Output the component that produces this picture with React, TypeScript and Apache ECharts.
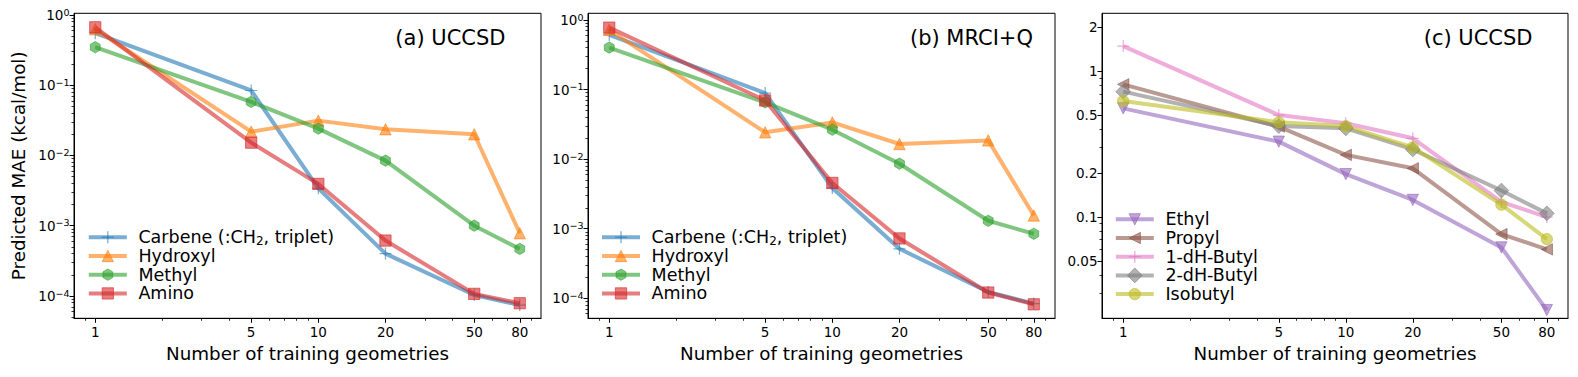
import React, { useEffect, useRef } from 'react';
import * as echarts from 'echarts';

// ---------------- data ----------------
const X_VALUES = [1, 5, 10, 20, 50, 80];
const X_TICK_LABELS = ['1', '5', '10', '20', '50', '80'];
const X_MINOR_TICKS = [0.9, 2, 3, 4, 6, 7, 8, 9, 30, 40, 60, 70, 90];
const X_LIMITS = [0.803, 99.6];

// panel (a) UCCSD
const carbeneA = [0.55, 0.084, 0.0034, 0.0004, 0.000103, 0.000074];
const hydroxylA = [0.625, 0.0218, 0.0313, 0.0236, 0.02, 0.00078];
const methylA = [0.347, 0.0578, 0.0241, 0.00844, 0.001, 0.000467];
const aminoA = [0.667, 0.0152, 0.00393, 0.000614, 0.000107, 0.0000787];

// panel (b) MRCI+Q
const carbeneB = [0.61, 0.089, 0.00386, 0.000515, 0.000123, 0.0000839];
const hydroxylB = [0.72, 0.0243, 0.0337, 0.0165, 0.0186, 0.00155];
const methylB = [0.401, 0.0653, 0.0265, 0.0086, 0.0013, 0.000846];
const aminoB = [0.776, 0.0697, 0.00455, 0.000725, 0.000121, 0.000082];

// panel (c) UCCSD
const ethylC = [0.557, 0.329, 0.197, 0.131, 0.0619, 0.023];
const propylC = [0.814, 0.417, 0.267, 0.216, 0.0764, 0.06];
const butyl1C = [1.49, 0.501, 0.44, 0.347, 0.127, 0.1];
const butyl2C = [0.725, 0.421, 0.406, 0.291, 0.152, 0.106];
const isobutylC = [0.626, 0.447, 0.421, 0.301, 0.1216, 0.0706];

const Y_TICKS_AB = [1e-4, 1e-3, 1e-2, 1e-1, 1];
const Y_TICK_EXPONENTS_AB = ['−4', '−3', '−2', '−1', '0'];
const Y_LIMITS_A = [4.8e-5, 1.055];
const Y_LIMITS_B = [5.16e-5, 1.247];
const Y_TICKS_C = [0.05, 0.1, 0.2, 0.5, 1, 2];
const Y_TICK_LABELS_C = ['0.05', '0.1', '0.2', '0.5', '1', '2'];
const Y_LIMITS_C = [0.0202, 2.5];

const PANEL_TITLES = ['(a) UCCSD', '(b) MRCI+Q', '(c) UCCSD'];
const NAMES_AB = ['Carbene (:CH2, triplet)', 'Hydroxyl', 'Methyl', 'Amino'];
const NAMES_C = ['Ethyl', 'Propyl', '1-dH-Butyl', '2-dH-Butyl', 'Isobutyl'];
const X_NAME = 'Number of training geometries';
const Y_NAME = 'Predicted MAE (kcal/mol)';

// ---------------- style ----------------
const C = {
  blue: 'rgba(31,119,180,0.6)',
  orange: 'rgba(255,127,14,0.6)',
  green: 'rgba(44,160,44,0.6)',
  red: 'rgba(214,39,40,0.6)',
  purple: 'rgba(148,103,189,0.6)',
  brown: 'rgba(140,86,75,0.6)',
  pink: 'rgba(227,119,194,0.6)',
  gray: 'rgba(127,127,127,0.6)',
  olive: 'rgba(188,189,34,0.6)',
};
const SYM: Record<string, string> = {
  plus: 'path://M9,0H11V9H20V11H11V20H9V11H0V9H9Z',
  tri: 'triangle',
  hex: 'path://M50,0L93.3,25L93.3,75L50,100L6.7,75L6.7,25Z',
  square: 'rect',
  triDown: 'path://M0,0L20,0L10,20Z',
  triLeft: 'path://M20,0L20,20L0,10Z',
  diamond: 'diamond',
  circle: 'circle',
};
const STYLE_AB = [
  { color: C.blue, symbol: 'plus', size: 12 },
  { color: C.orange, symbol: 'tri', size: 11.3 },
  { color: C.green, symbol: 'hex', size: 11.3 },
  { color: C.red, symbol: 'square', size: 11.3 },
];
const STYLE_C = [
  { color: C.purple, symbol: 'triDown', size: 11.3 },
  { color: C.brown, symbol: 'triLeft', size: 11.3 },
  { color: C.pink, symbol: 'plus', size: 12 },
  { color: C.gray, symbol: 'diamond', size: 14.8 },
  { color: C.olive, symbol: 'circle', size: 11.3 },
];
const FONT = 'DejaVu Sans';
const GRIDS = [
  { left: 74, top: 13.3, width: 467, height: 305 },
  { left: 588, top: 13.3, width: 467, height: 305 },
  { left: 1102, top: 13.3, width: 466, height: 305 },
];
const LEGEND_POS = [
  { x: 88.8, y: 237.3 },
  { x: 602, y: 237.3 },
  { x: 1115.8, y: 219.3 },
];
const LEGEND_ROW = 18.7;
const LEGEND_LINE = 38;
const LEGEND_TEXT_GAP = 11.6;

const lg = Math.log10;
const pairs = (ys: number[]) => X_VALUES.map((x, i) => [lg(x), lg(ys[i])]);

function minorLogTicks(lo: number, hi: number, skip: number[] = []) {
  const out: number[] = [];
  for (let k = Math.floor(lo) - 1; k <= Math.ceil(hi); k++) {
    for (let m = 2; m <= 9; m++) {
      const v = lg(m) + k;
      if (v > lo && v < hi && !skip.some((s) => Math.abs(lg(s) - v) < 1e-6)) out.push(v);
    }
  }
  return out;
}

function nearestIndex(arr: number[], v: number) {
  let best = 0;
  for (let i = 1; i < arr.length; i++) if (Math.abs(arr[i] - v) < Math.abs(arr[best] - v)) best = i;
  return best;
}

function markerGraphic(symbol: string, cx: number, cy: number, s: number, color: string): any[] {
  const h = s / 2;
  const filled = { fill: color, stroke: color, lineWidth: 1 };
  switch (symbol) {
    case 'plus':
      return [
        { type: 'line', silent: true, shape: { x1: cx - h, y1: cy, x2: cx + h, y2: cy }, style: { stroke: color, lineWidth: 1.3 } },
        { type: 'line', silent: true, shape: { x1: cx, y1: cy - h, x2: cx, y2: cy + h }, style: { stroke: color, lineWidth: 1.3 } },
      ];
    case 'tri':
      return [{ type: 'polygon', silent: true, shape: { points: [[cx, cy - h], [cx + h, cy + h], [cx - h, cy + h]] }, style: filled }];
    case 'triDown':
      return [{ type: 'polygon', silent: true, shape: { points: [[cx - h, cy - h], [cx + h, cy - h], [cx, cy + h]] }, style: filled }];
    case 'triLeft':
      return [{ type: 'polygon', silent: true, shape: { points: [[cx + h, cy - h], [cx + h, cy + h], [cx - h, cy]] }, style: filled }];
    case 'hex': {
      const w = 0.866 * h;
      return [{ type: 'polygon', silent: true, shape: { points: [[cx, cy - h], [cx + w, cy - h / 2], [cx + w, cy + h / 2], [cx, cy + h], [cx - w, cy + h / 2], [cx - w, cy - h / 2]] }, style: filled }];
    }
    case 'square':
      return [{ type: 'rect', silent: true, shape: { x: cx - h, y: cy - h, width: s, height: s }, style: filled }];
    case 'diamond':
      return [{ type: 'polygon', silent: true, shape: { points: [[cx, cy - h], [cx + h, cy], [cx, cy + h], [cx - h, cy]] }, style: filled }];
    default:
      return [{ type: 'circle', silent: true, shape: { cx, cy, r: h }, style: filled }];
  }
}

function legendGraphics(x0: number, y0: number, names: string[], styles: any[]) {
  const els: any[] = [];
  names.forEach((name, i) => {
    const y = y0 + i * LEGEND_ROW;
    const st = styles[i];
    els.push({ type: 'line', silent: true, shape: { x1: x0, y1: y, x2: x0 + LEGEND_LINE, y2: y }, style: { stroke: st.color, lineWidth: 4 } });
    els.push(...markerGraphic(st.symbol, x0 + LEGEND_LINE / 2, y, st.size, st.color));
    const isCarbene = name === NAMES_AB[0];
    els.push({
      type: 'text', silent: true, x: x0 + LEGEND_LINE + LEGEND_TEXT_GAP, y,
      style: {
        text: isCarbene ? '{t|Carbene (:CH}{sub|2}{t|, triplet)}' : name,
        fontSize: 17.5, fontFamily: FONT, fill: '#000', align: 'left', verticalAlign: 'middle',
        lineHeight: 18.7,
        rich: {
          t: { fontSize: 17.5, lineHeight: 18.7, fill: '#000', fontFamily: FONT },
          sub: { fontSize: 12, lineHeight: 8, verticalAlign: 'bottom', fill: '#000', fontFamily: FONT },
        },
      },
    });
  });
  return els;
}

function buildOption() {
  const xMajor = X_VALUES.map(lg);
  const xMinor = X_MINOR_TICKS.map(lg);
  const xMin = lg(X_LIMITS[0]);
  const xMax = lg(X_LIMITS[1]);

  const xAxes: any[] = [];
  const yAxes: any[] = [];
  const yLimits = [Y_LIMITS_A, Y_LIMITS_B, Y_LIMITS_C];

  for (let g = 0; g < 3; g++) {
    xAxes.push({
      type: 'value', gridIndex: g, position: 'bottom', min: xMin, max: xMax,
      axisLine: { show: true, onZero: false, lineStyle: { color: '#000', width: 1 } },
      axisTick: { show: true, length: 4.5, lineStyle: { color: '#000', width: 1 }, customValues: xMajor },
      axisLabel: {
        show: true, customValues: xMajor, margin: 7, color: '#000', fontSize: 13.5, fontFamily: FONT,
        formatter: (v: number) => X_TICK_LABELS[nearestIndex(xMajor, v)],
      },
      splitLine: { show: false },
      name: X_NAME, nameLocation: 'middle', nameGap: 24,
      nameTextStyle: { color: '#000', fontSize: 18.3, fontFamily: FONT },
    });
    xAxes.push({
      type: 'value', gridIndex: g, position: 'bottom', offset: 0, min: xMin, max: xMax,
      axisLine: { show: false, onZero: false },
      axisTick: { show: true, length: 2.5, lineStyle: { color: '#000', width: 0.8 }, customValues: xMinor },
      axisLabel: { show: false },
      splitLine: { show: false },
    });

    const lo = lg(yLimits[g][0]);
    const hi = lg(yLimits[g][1]);
    const isC = g === 2;
    const yMajor = (isC ? Y_TICKS_C : Y_TICKS_AB).map(lg);
    const yMinor = minorLogTicks(lo, hi, isC ? Y_TICKS_C : []);
    yAxes.push({
      type: 'value', gridIndex: g, position: 'left', min: lo, max: hi,
      axisLine: { show: true, onZero: false, lineStyle: { color: '#000', width: 1 } },
      axisTick: { show: true, length: 4.5, lineStyle: { color: '#000', width: 1 }, customValues: yMajor },
      axisLabel: {
        show: true, customValues: yMajor, margin: 4.5, color: '#000', fontSize: 13.5, fontFamily: FONT,
        lineHeight: 15.5,
        formatter: (v: number) => {
          const i = nearestIndex(yMajor, v);
          return isC ? Y_TICK_LABELS_C[i] : '10{sup|' + Y_TICK_EXPONENTS_AB[i] + '}';
        },
        rich: {
          sup: { fontSize: 9.5, lineHeight: 9.5, verticalAlign: 'top', color: '#000', fontFamily: FONT },
        },
      },
      splitLine: { show: false },
      ...(g === 0
        ? {
            name: Y_NAME, nameLocation: 'middle', nameGap: 47,
            nameTextStyle: { color: '#000', fontSize: 18.3, fontFamily: FONT },
          }
        : {}),
    });
    yAxes.push({
      type: 'value', gridIndex: g, position: 'left', offset: 0, min: lo, max: hi,
      axisLine: { show: false, onZero: false },
      axisTick: { show: true, length: 2.5, lineStyle: { color: '#000', width: 0.8 }, customValues: yMinor },
      axisLabel: { show: false },
      splitLine: { show: false },
    });
  }

  const mk = (name: string, ys: number[], st: any, g: number) => ({
    type: 'line', name, xAxisIndex: g * 2, yAxisIndex: g * 2, data: pairs(ys),
    symbol: SYM[st.symbol], symbolSize: st.size, symbolKeepAspect: true, showSymbol: true, showAllSymbol: true,
    lineStyle: { color: st.color, width: 4 },
    itemStyle: { color: st.color, borderColor: st.color, borderWidth: st.symbol === 'plus' ? 0 : 1 },
    emphasis: { disabled: true },
    clip: false,
  });

  const dataAB = [[carbeneA, hydroxylA, methylA, aminoA], [carbeneB, hydroxylB, methylB, aminoB]];
  const dataC = [ethylC, propylC, butyl1C, butyl2C, isobutylC];
  const series: any[] = [];
  dataAB.forEach((set, g) => set.forEach((ys, i) => series.push(mk(NAMES_AB[i], ys, STYLE_AB[i], g))));
  dataC.forEach((ys, i) => series.push(mk(NAMES_C[i], ys, STYLE_C[i], 2)));

  const titleStyle = { fontSize: 21, fontFamily: FONT, fill: '#000', align: 'right', verticalAlign: 'middle' };

  return {
    animation: false,
    backgroundColor: '#fff',
    textStyle: { fontFamily: FONT },
    grid: GRIDS.map((g) => ({ ...g, show: true, borderColor: '#000', borderWidth: 1, backgroundColor: 'transparent', containLabel: false, outerBoundsMode: 'none' })),
    xAxis: xAxes,
    yAxis: yAxes,
    tooltip: { show: false },
    graphic: [
      { type: 'text', x: 505.5, y: 37.5, style: { text: PANEL_TITLES[0], ...titleStyle } },
      { type: 'text', x: 1033, y: 37.5, style: { text: PANEL_TITLES[1], ...titleStyle } },
      { type: 'text', x: 1532.5, y: 38, style: { text: PANEL_TITLES[2], ...titleStyle } },
      ...legendGraphics(LEGEND_POS[0].x, LEGEND_POS[0].y, NAMES_AB, STYLE_AB),
      ...legendGraphics(LEGEND_POS[1].x, LEGEND_POS[1].y, NAMES_AB, STYLE_AB),
      ...legendGraphics(LEGEND_POS[2].x, LEGEND_POS[2].y, NAMES_C, STYLE_C),
    ],
    series,
  };
}

export default function App() {
  const ref = useRef<HTMLDivElement>(null);
  useEffect(() => {
    if (!ref.current) return;
    const chart = echarts.init(ref.current, undefined, { renderer: 'svg' });
    chart.setOption(buildOption() as any);
    return () => chart.dispose();
  }, []);
  return <div ref={ref} style={{ position: 'absolute', left: 0, top: 0, width: 1578, height: 377 }} />;
}
